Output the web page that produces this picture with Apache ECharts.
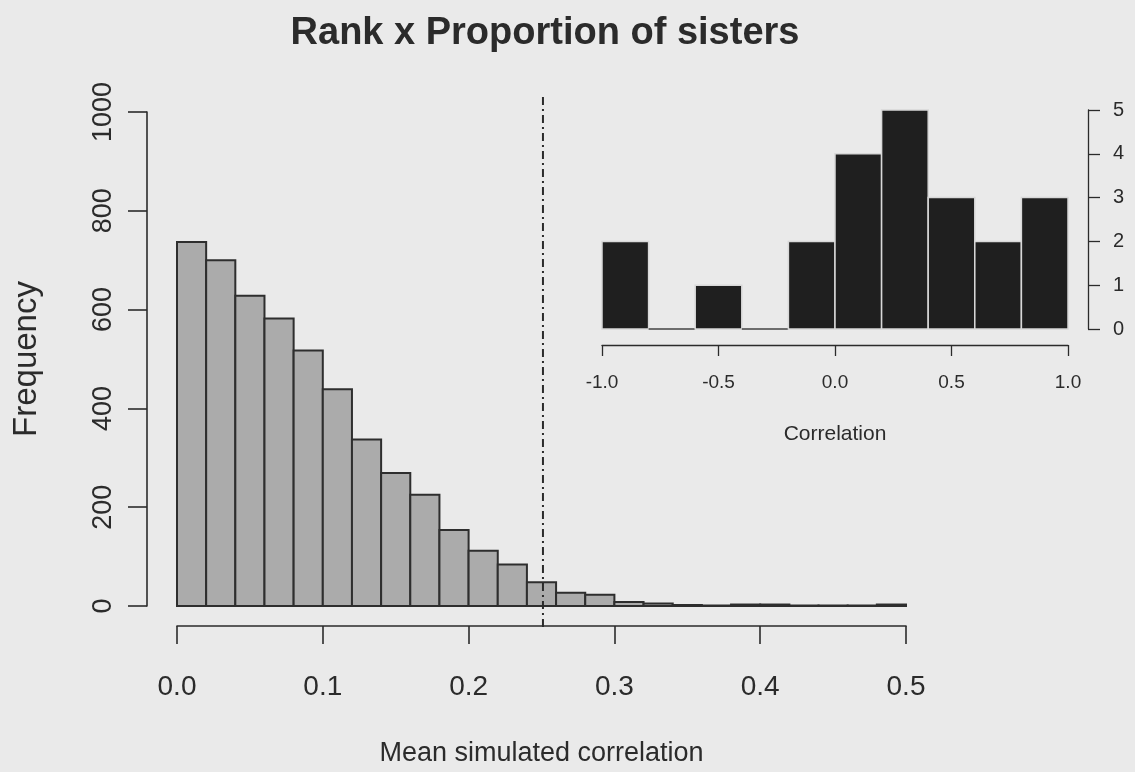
<!DOCTYPE html>
<html>
<head>
<meta charset="utf-8">
<script src="https://cdn.jsdelivr.net/npm/echarts@6/dist/echarts.min.js"></script>
<style>
html,body{margin:0;padding:0;background:#eaeaea;}
#c{width:1135px;height:772px;}
</style>
</head>
<body>
<div id="c"></div>
<script>
// ---- Data ----
const title = "Rank x Proportion of sisters";
const mainXLabel = "Mean simulated correlation";
const mainYLabel = "Frequency";
const mainEdges = [0.00,0.02,0.04,0.06,0.08,0.10,0.12,0.14,0.16,0.18,0.20,0.22,0.24,0.26,0.28,0.30,0.32,0.34,0.36,0.38,0.40,0.42,0.44,0.46,0.48,0.50];
const mainCounts = [737,700,628,582,517,439,337,269,225,154,112,84,48,27,23,8,5,2,1,3,3,1,1,1,3];
const observedValue = 0.251;

const insetXLabel = "Correlation";
const insetEdges = [-1.0,-0.8,-0.6,-0.4,-0.2,0.0,0.2,0.4,0.6,0.8,1.0];
const insetCounts = [2,0,1,0,2,4,5,3,2,3];

const mainXTicks = [0.0,0.1,0.2,0.3,0.4,0.5];
const mainYTicks = [0,200,400,600,800,1000];
const insetXTicks = [-1.0,-0.5,0.0,0.5,1.0];
const insetYTicks = [0,1,2,3,4,5];

// ---- Build ----
const mainData = mainCounts.map((c,i)=>[mainEdges[i], mainEdges[i+1], c]);
const insetData = insetCounts.map((c,i)=>[insetEdges[i], insetEdges[i+1], c]);

function histRender(fill, stroke, lw){
  return function(params, api){
    const x0 = api.value(0), x1 = api.value(1), c = api.value(2);
    const p0 = api.coord([x0, 0]);
    const p1 = api.coord([x1, c]);
    return {
      type:'rect',
      shape:{x:p0[0], y:p1[1], width:p1[0]-p0[0], height:p0[1]-p1[1]},
      style:{fill: c>0 ? fill : 'none', stroke: c>0 ? stroke : '#444', lineWidth: lw}
    };
  };
}

const FONT = '"Liberation Sans", Arial, Helvetica, sans-serif';
const INK = '#2b2b2b';
const axisLineStyle = {color: INK, width: 1.6};

const chart = echarts.init(document.getElementById('c'), null, {renderer:'canvas'});
chart.setOption({
  backgroundColor:'#eaeaea',
  animation:false,
  textStyle:{fontFamily:FONT, color:INK},
  title:{
    text:title, left:540, top:10, textAlign:'center',
    textStyle:{fontFamily:FONT, fontSize:38, fontWeight:'bold', color:INK}
  },
  grid:[
    {left:177, right:229, top:112, bottom:164, containLabel:false},
    {left:602, right:67, top:110, bottom:443, containLabel:false},
    {left:177, right:229, top:93, bottom:145, containLabel:false}
  ],
  xAxis:[
    {
      type:'value', gridIndex:0, min:0, max:0.5, interval:0.1, offset:20,
      axisLine:{show:true, onZero:false, lineStyle:axisLineStyle},
      axisTick:{show:true, length:18, lineStyle:axisLineStyle},
      splitLine:{show:false},
      axisLabel:{show:true, margin:47, fontSize:28, color:INK, fontFamily:FONT,
        showMinLabel:true, showMaxLabel:true,
        formatter:v=>{const t=mainXTicks.find(k=>Math.abs(k-v)<1e-9);return t===undefined?'':t.toFixed(1);}},
      name:mainXLabel, nameLocation:'middle', nameGap:114,
      nameTextStyle:{fontSize:27, color:INK, fontFamily:FONT}
    },
    {
      type:'value', gridIndex:1, min:-1, max:1, interval:0.5, offset:16,
      axisLine:{show:true, onZero:false, lineStyle:{color:INK, width:1.3}},
      axisTick:{show:true, length:11, lineStyle:{color:INK, width:1.3}},
      splitLine:{show:false},
      axisLabel:{show:true, margin:28, fontSize:19, color:INK, fontFamily:FONT,
        showMinLabel:true, showMaxLabel:true,
        formatter:v=>{const t=insetXTicks.find(k=>Math.abs(k-v)<1e-9);return t===undefined?'':t.toFixed(1);}},
      name:insetXLabel, nameLocation:'middle', nameGap:79,
      nameTextStyle:{fontSize:21, color:INK, fontFamily:FONT}
    },
    {
      type:'value', gridIndex:2, min:0, max:0.5, show:false
    }
  ],
  yAxis:[
    {
      type:'value', gridIndex:0, min:0, max:1000, interval:200, offset:30,
      axisLine:{show:true, onZero:false, lineStyle:axisLineStyle},
      axisTick:{show:true, length:19, lineStyle:axisLineStyle},
      splitLine:{show:false},
      axisLabel:{show:true, margin:30, fontSize:27, rotate:90, color:INK, fontFamily:FONT,
        showMinLabel:true, showMaxLabel:true,
        formatter:v=>{const t=mainYTicks.find(k=>k===v);return t===undefined?'':String(t);}},
      name:mainYLabel, nameLocation:'middle', nameGap:104, nameRotate:90,
      nameTextStyle:{fontSize:33, color:INK, fontFamily:FONT}
    },
    {
      type:'value', gridIndex:1, min:0, max:5, interval:1, position:'right', offset:20,
      axisLine:{show:true, onZero:false, lineStyle:{color:INK, width:1.3}},
      axisTick:{show:true, length:12, lineStyle:{color:INK, width:1.3}},
      splitLine:{show:false},
      axisLabel:{show:true, margin:25, fontSize:20, color:INK, fontFamily:FONT,
        showMinLabel:true, showMaxLabel:true,
        formatter:v=>{const t=insetYTicks.find(k=>k===v);return t===undefined?'':String(t);}}
    },
    {
      type:'value', gridIndex:2, min:0, max:1, show:false
    }
  ],
  series:[
    {
      type:'custom', xAxisIndex:0, yAxisIndex:0,
      renderItem:histRender('#ababab', '#2e2e2e', 2),
      encode:{x:[0,1], y:2},
      data:mainData, silent:true
    },
    {
      type:'custom', xAxisIndex:1, yAxisIndex:1,
      renderItem:histRender('#1f1f1f', '#d8d8d8', 1.5),
      encode:{x:[0,1], y:2},
      data:insetData, silent:true
    },
    {
      type:'line', xAxisIndex:2, yAxisIndex:2,
      data:[[observedValue,0],[observedValue,1]],
      symbol:'none', silent:true,
      lineStyle:{color:INK, width:2, type:[8,4,2,4]}
    }
  ]
});
</script>
</body>
</html>
